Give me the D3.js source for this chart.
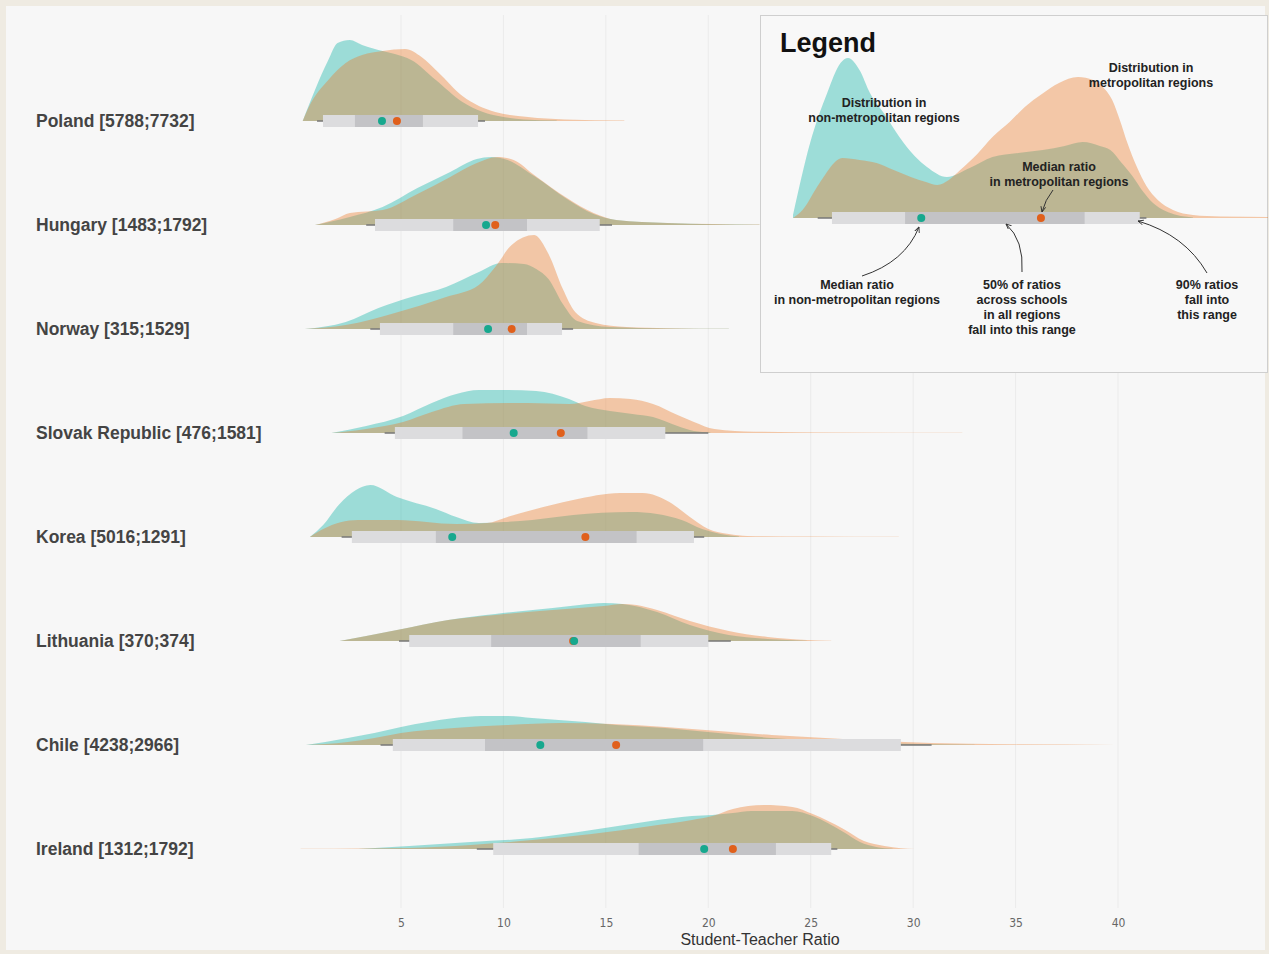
<!DOCTYPE html>
<html><head><meta charset="utf-8">
<script src="https://cdn.jsdelivr.net/npm/d3@7"></script>
<style>body{margin:0;background:#efebe2;} svg{display:block}</style>
</head><body><svg id="c" width="1269" height="954"></svg>
<script>
// ---------------- DATA ----------------
const countryLabels = ["Poland [5788;7732]","Hungary [1483;1792]","Norway [315;1529]","Slovak Republic [476;1581]","Korea [5016;1291]","Lithuania [370;374]","Chile [4238;2966]","Ireland [1312;1792]"];
const xTicks = [5,10,15,20,25,30,35,40];

// density curves: [ratio, density]
const polandNonMetro = [[0.2,0],[0.8,.31],[1.45,.61],[1.9,.78],[2.5,.81],[3.1,.76],[4.1,.70],[4.7,.67],[5.5,.61],[6.7,.41],[8.0,.19],[9.0,.09],[10.0,.04],[11.0,.015],[12.6,.005]];
const polandMetro = [[0.2,0],[0.5,.14],[1.45,.41],[2.3,.58],[3.1,.66],[4.1,.70],[5.2,.72],[6.0,.64],[6.8,.49],[8.0,.25],[9.6,.09],[11.2,.04],[13,.015],[15.9,.004]];
const hungaryNonMetro = [[0.8,0],[2.5,.08],[4.1,.18],[5.8,.37],[7.4,.53],[8.7,.66],[9.4,.68],[10.2,.65],[11.5,.49],[13.1,.26],[14.4,.11],[15.5,.05],[18,.02],[22.5,.003]];
const hungaryMetro = [[0.8,0],[1.8,.06],[2.5,.12],[4.1,.15],[5.8,.31],[7.4,.48],[8.7,.62],[9.7,.68],[10.5,.65],[11.5,.50],[13.1,.27],[14.4,.12],[15.5,.05],[18,.02],[22.5,.004]];
const norwayNonMetro = [[0.3,0],[2.3,.07],[3.9,.21],[5.5,.32],[7.2,.42],[8.8,.57],[9.9,.66],[11.0,.65],[11.6,.60],[12.2,.50],[12.9,.25],[13.6,.08],[15.2,.02],[18,.006],[21,.002]];
const norwayMetro = [[0.3,0],[2.3,.04],[4.7,.16],[7.2,.32],[8.8,.44],[9.6,.62],[10.4,.84],[11.5,.94],[12.2,.75],[12.9,.40],[13.5,.17],[14.5,.06],[16,.02],[18,.008],[21,.002]];
const slovakNonMetro = [[1.6,0],[3.3,.07],[5.1,.17],[6.5,.30],[7.7,.39],[8.8,.43],[10.2,.43],[11.6,.42],[13.2,.34],[14.0,.27],[15.2,.22],[16.3,.19],[17.3,.16],[18.5,.07],[19.3,.02],[20.1,.005]];
const slovakMetro = [[1.6,0],[3.3,.04],[5.1,.11],[6.5,.21],[8.1,.29],[11.2,.30],[13.2,.29],[14.2,.32],[15.2,.35],[16.2,.34],[17.3,.29],[18.5,.18],[19.3,.11],[20.3,.04],[22.3,.013],[26,.005],[32.4,.002]];
const koreaNonMetro = [[0.55,0],[1.2,.12],[2.0,.33],[2.8,.47],[3.5,.52],[4.8,.40],[6.7,.28],[7.7,.20],[8.8,.14],[10,.15],[11.4,.17],[13.4,.22],[16.2,.25],[17.5,.23],[18.7,.17],[19.7,.08],[20.6,.03],[21.5,.005]];
const koreaMetro = [[0.55,0],[1.2,.08],[2.9,.17],[4.8,.17],[7.7,.13],[9.2,.14],[10.2,.20],[11.4,.27],[13.4,.37],[15.7,.44],[16.8,.44],[18.1,.35],[19.1,.20],[20.0,.08],[21,.03],[21.9,.01],[25,.004],[29.3,.002]];
const lithuaniaNonMetro = [[2,0],[3.3,.05],[4.8,.11],[7.3,.21],[9.6,.27],[12.4,.33],[13.7,.36],[14.9,.38],[15.8,.37],[17.5,.29],[19.1,.16],[21,.06],[22.9,.02],[24.8,.003]];
const lithuaniaMetro = [[2,0],[3.3,.05],[4.8,.11],[7.3,.21],[9.6,.26],[12.4,.31],[13.7,.33],[14.9,.35],[15.8,.37],[16.5,.36],[17.5,.31],[19.1,.20],[21,.10],[22.9,.04],[24.8,.01],[26,.002]];
const chileNonMetro = [[0.36,0],[1.3,.03],[2.4,.07],[3.7,.12],[5.0,.18],[6.3,.23],[7.6,.27],[8.9,.29],[10.2,.29],[11.4,.27],[12.7,.25],[14.0,.23],[15.5,.20],[17.9,.17],[20.5,.12],[23.1,.07],[25.7,.04],[28.3,.02],[30.9,.007],[33,.002]];
const chileMetro = [[0.36,0],[1.3,.01],[2.4,.03],[3.7,.07],[5,.12],[6.3,.15],[7.6,.17],[10.2,.20],[12.8,.22],[15.3,.21],[17.9,.18],[20.5,.14],[23.1,.10],[25.7,.07],[28.3,.04],[30.9,.02],[34.7,.007],[39.9,.001]];
const irelandNonMetro = [[2.9,0],[5.4,.03],[8.4,.07],[11.4,.11],[14.3,.19],[17.2,.28],[19.2,.33],[20.2,.34],[21.2,.36],[22.1,.38],[24.1,.38],[25.1,.33],[26.6,.17],[27.4,.07],[28.2,.02],[29,.003]];
const irelandMetro = [[0.1,.003],[2.9,.005],[5.4,.01],[8.4,.04],[11.4,.09],[14.3,.15],[17.2,.23],[19.2,.29],[20.2,.33],[21.2,.40],[22.7,.44],[24.1,.42],[25.1,.35],[26.6,.20],[27.6,.08],[28.6,.03],[29.4,.007],[30.1,0]];

const nonMetroSeries = [polandNonMetro,hungaryNonMetro,norwayNonMetro,slovakNonMetro,koreaNonMetro,lithuaniaNonMetro,chileNonMetro,irelandNonMetro];
const metroSeries = [polandMetro,hungaryMetro,norwayMetro,slovakMetro,koreaMetro,lithuaniaMetro,chileMetro,irelandMetro];

// intervals
const thinLo  = [0.9, 3.3, 3.5, 4.2, 2.1, 4.9, 4.0, 8.7];
const thinHi  = [9.1, 15.3, 13.4, 20.0, 19.8, 21.1, 30.9, 26.3];
const q90Lo   = [1.19, 3.73, 3.97, 4.7, 2.6, 5.4, 4.6, 9.5];
const q90Hi   = [8.76, 14.7, 12.86, 17.9, 19.3, 20.0, 29.4, 26.0];
const q50Lo   = [2.75, 7.55, 7.55, 8.0, 6.7, 9.4, 9.1, 16.6];
const q50Hi   = [6.07, 11.15, 11.15, 14.1, 16.5, 16.7, 19.75, 23.3];
const medianNonMetro = [4.07, 9.15, 9.25, 10.5, 7.5, 13.45, 11.8, 19.8];
const medianMetro    = [4.8, 9.6, 10.4, 12.8, 14.0, 13.4, 15.5, 21.2];

// legend example distribution
const legendNonMetro = [[0,.03],[0.9,.75],[1.8,1.25],[2.5,1.55],[2.9,1.60],[3.5,1.48],[4.05,1.25],[4.85,1.03],[5.6,.81],[6.4,.62],[7.05,.51],[8.1,.41],[9.3,.50],[10.5,.61],[11.85,.65],[13.15,.68],[14.3,.72],[15.25,.76],[16.15,.72],[16.7,.68],[17.3,.55],[17.9,.41],[18.4,.27],[18.95,.15],[19.6,.07],[20.2,.03],[21.05,.005]];
const legendMetro = [[0,0],[0.5,.08],[1.4,.35],[2.6,.60],[3.5,.58],[4.4,.55],[5.3,.48],[6.2,.41],[7.0,.36],[7.6,.33],[8.2,.38],[8.8,.48],[9.7,.64],[10.5,.81],[11.4,.96],[12.2,1.11],[13.1,1.24],[14.0,1.35],[15.0,1.41],[15.8,1.38],[16.3,1.31],[16.8,1.18],[17.2,.98],[17.6,.75],[18.1,.51],[18.6,.32],[19.2,.18],[20.0,.08],[21.05,.03],[22.5,.015],[25,.01]];
const legendThin = [1.3, 18.6];
const legend90 = [2.05, 18.25];
const legend50 = [5.9, 15.35];
const legendMedNonMetro = 6.75;
const legendMedMetro = 13.05;

// ---------------- DRAW ----------------
const svg = d3.select("#c");
const colNon = "#13b5a8", colMet = "#ec7c2e";
const dotNon = "#17a88e", dotMet = "#e0601c";

svg.append("rect").attr("x",6).attr("y",6).attr("width",1259).attr("height",944).attr("fill","#f7f7f7");

const x = d3.scaleLinear().domain([0,40]).range([298.6,1118]);
const y = d3.scalePoint().domain(countryLabels).range([121,849]);
const h = d3.scaleLinear().domain([0,1]).range([0,100]);

// grid
svg.append("g").selectAll("line").data(xTicks).join("line")
  .attr("x1",d=>x(d)).attr("x2",d=>x(d)).attr("y1",15).attr("y2",908)
  .attr("stroke","#ebebeb").attr("stroke-width",1);

// axis
const axis = d3.axisBottom(x).tickValues(xTicks).tickSize(0).tickPadding(0);
const ag = svg.append("g").attr("transform","translate(0,918)").call(axis);
ag.select(".domain").remove();
ag.selectAll("text").attr("fill","#666").style("font-family","'Liberation Sans Narrow','DejaVu Sans Condensed','Liberation Sans',sans-serif").style("font-size","12px");
svg.append("text").attr("x",760).attr("y",945).attr("text-anchor","middle")
  .style("font-family","'Liberation Sans',Arial,sans-serif").style("font-size","16px").attr("fill","#333")
  .text("Student-Teacher Ratio");

function drawRow(g, xs, base, hs, non, met, thin, r90, r50, mNon, mMet){
  const area = d3.area().x(d=>xs(d[0])).y0(base).y1(d=>base-hs(d[1])).curve(d3.curveMonotoneX);
  g.append("path").datum(non).attr("d",area).attr("fill",colNon).attr("fill-opacity",0.4);
  g.append("path").datum(met).attr("d",area).attr("fill",colMet).attr("fill-opacity",0.4);
  g.append("line").attr("x1",xs(thin[0])).attr("x2",xs(thin[1])).attr("y1",base).attr("y2",base)
    .attr("stroke","#777").attr("stroke-width",1.5);
  g.append("rect").attr("x",xs(r90[0])).attr("width",xs(r90[1])-xs(r90[0])).attr("y",base-6).attr("height",12).attr("fill","#dcdcde");
  g.append("rect").attr("x",xs(r50[0])).attr("width",xs(r50[1])-xs(r50[0])).attr("y",base-6).attr("height",12).attr("fill","#c3c3c6");
  g.append("circle").attr("cx",xs(mMet)).attr("cy",base).attr("r",4).attr("fill",dotMet);
  g.append("circle").attr("cx",xs(mNon)).attr("cy",base).attr("r",4).attr("fill",dotNon);
}

countryLabels.forEach((c,i)=>{
  const g = svg.append("g");
  drawRow(g, x, y(c), h, nonMetroSeries[i], metroSeries[i], [thinLo[i],thinHi[i]], [q90Lo[i],q90Hi[i]], [q50Lo[i],q50Hi[i]], medianNonMetro[i], medianMetro[i]);
  svg.append("text").attr("x",36).attr("y",y(c)+6)
    .style("font-family","'Liberation Sans',Arial,sans-serif").style("font-weight","bold").style("font-size","17.5px")
    .attr("fill","#444").text(c);
});

// ---------------- LEGEND ----------------
const lg = svg.append("g");
lg.append("rect").attr("x",760.5).attr("y",15.5).attr("width",507).attr("height",357)
  .attr("fill","#f8f8f8").attr("stroke","#cfcfcf");
const lx = d3.scaleLinear().domain([0,25]).range([793,1268]);
const lbase = 218;
const lclip = lg.append("g");
drawRow(lclip, lx, lbase, h, legendNonMetro, legendMetro, legendThin, legend90, legend50, legendMedNonMetro, legendMedMetro);
lg.append("text").attr("x",780).attr("y",52).style("font-family","'Liberation Sans',Arial,sans-serif")
  .style("font-weight","bold").style("font-size","27px").attr("fill","#111").text("Legend");

const notes = [
  {x:884, y:107, lines:["Distribution in","non-metropolitan regions"]},
  {x:1151, y:72, lines:["Distribution in","metropolitan regions"]},
  {x:1059, y:171, lines:["Median ratio","in metropolitan regions"]},
  {x:857, y:289, lines:["Median ratio","in non-metropolitan regions"]},
  {x:1022, y:289, lines:["50% of ratios","across schools","in all regions","fall into this range"]},
  {x:1207, y:289, lines:["90% ratios","fall into","this range"]}
];
notes.forEach(n=>{
  const t = lg.append("text").attr("x",n.x).attr("y",n.y).attr("text-anchor","middle")
    .style("font-family","'Liberation Sans',Arial,sans-serif").style("font-weight","bold").style("font-size","12.5px").attr("fill","#222");
  n.lines.forEach((l,k)=>t.append("tspan").attr("x",n.x).attr("dy",k?15:0).text(l));
});
svg.append("defs").append("marker").attr("id","arr").attr("viewBox","0 0 10 10").attr("refX",9).attr("refY",5)
  .attr("markerWidth",6).attr("markerHeight",6).attr("orient","auto-start-reverse")
  .append("path").attr("d","M0,1 L9,5 L0,9").attr("fill","none").attr("stroke","#333").attr("stroke-width",1.5);
const arrows = [
  "M1053,190 Q1045,200 1042,212",
  "M862,276 Q905,262 919,227",
  "M1022,272 Q1024,240 1006,224",
  "M1207,273 Q1185,235 1138,221"
];
arrows.forEach(d=>lg.append("path").attr("d",d).attr("fill","none").attr("stroke","#333").attr("stroke-width",1).attr("marker-end","url(#arr)"));
</script></body></html>
